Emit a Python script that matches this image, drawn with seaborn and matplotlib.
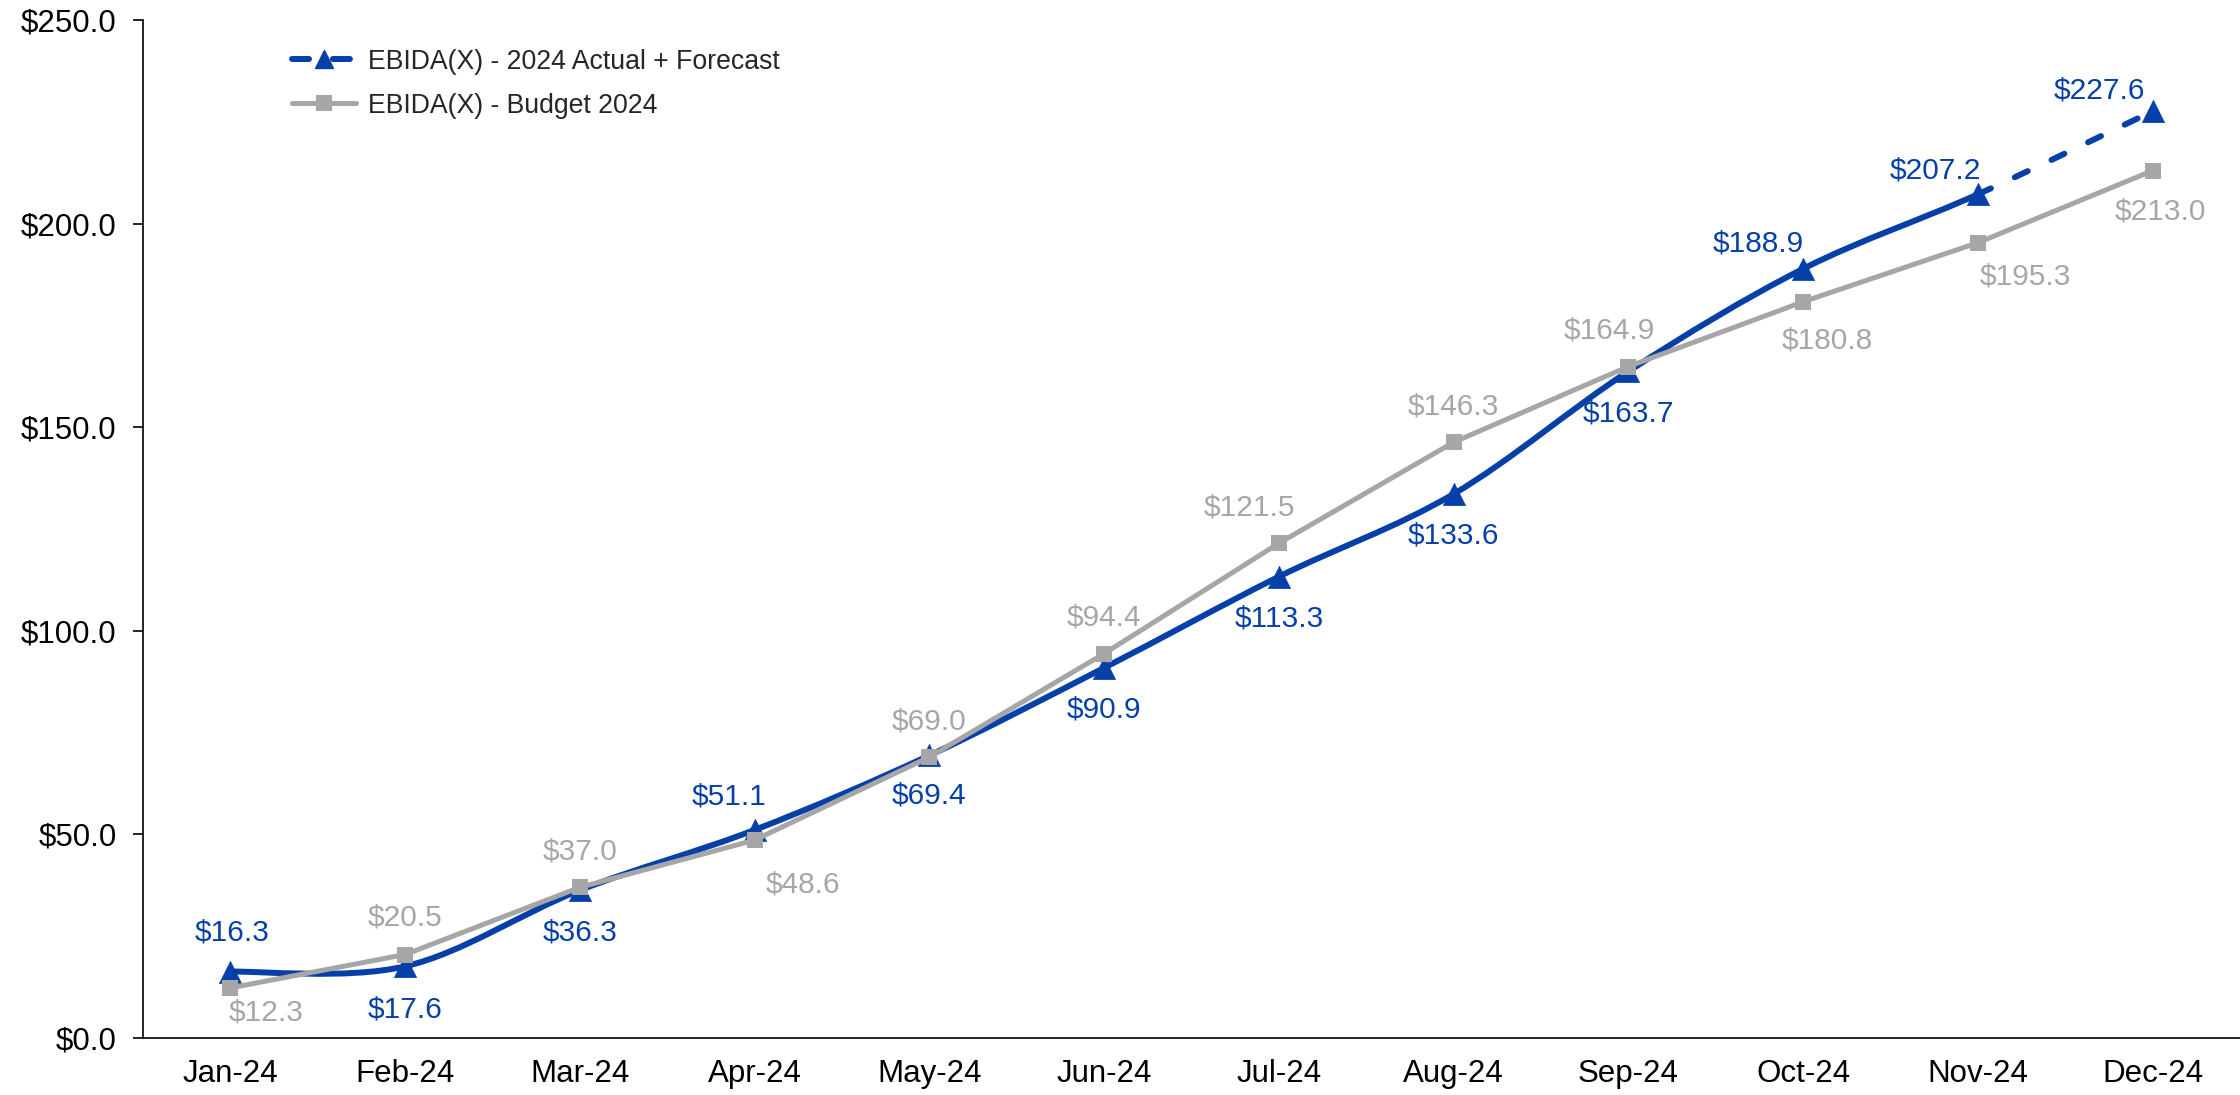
import numpy as np
import seaborn as sns
import matplotlib.pyplot as plt
from matplotlib.path import Path
from matplotlib.patches import PathPatch
from matplotlib.lines import Line2D
from matplotlib.ticker import FuncFormatter

# Data
months = ['Jan-24', 'Feb-24', 'Mar-24', 'Apr-24', 'May-24', 'Jun-24',
          'Jul-24', 'Aug-24', 'Sep-24', 'Oct-24', 'Nov-24', 'Dec-24']
actual = [16.3, 17.6, 36.3, 51.1, 69.4, 90.9, 113.3, 133.6, 163.7, 188.9, 207.2, 227.6]
budget = [12.3, 20.5, 37.0, 48.6, 69.0, 94.4, 121.5, 146.3, 164.9, 180.8, 195.3, 213.0]
series_names = ['EBIDA(X) - 2024 Actual + Forecast', 'EBIDA(X) - Budget 2024']
n_actual = 11  # Jan..Nov actual, Dec forecast

# label nudges in pixels (dx right, dy down)
actual_label_off = [(2, -39), (0, 43), (0, 42), (-26, -33), (0, 40), (0, 42),
                    (0, 42), (0, 42), (0, 42), (-45, -25), (-43, -24), (-53, -21)]
budget_label_off = [(36, 25), (0, -37), (0, -36), (48, 44), (0, -36), (0, -36),
                    (-29, -36), (0, -36), (-19, -36), (24, 39), (48, 34), (8, 41)]

BLUE = '#0540A8'
GRAY = '#A6A6A6'


def smooth_segments(xs, ys):
    # excel-style smoothed line: one cubic bezier per segment
    pts = np.column_stack([xs, ys]).astype(float)
    n = len(pts)
    segs = []
    for i in range(n - 1):
        p0 = pts[max(i - 1, 0)]
        p1, p2 = pts[i], pts[i + 1]
        p3 = pts[min(i + 2, n - 1)]
        segs.append([p1, p1 + (p2 - p0) / 6, p2 - (p3 - p1) / 6, p2])
    return segs


def segs_to_path(segs):
    verts = [segs[0][0]]
    codes = [Path.MOVETO]
    for s in segs:
        verts += list(s[1:])
        codes += [Path.CURVE4] * 3
    return Path(verts, codes)


def main():
    sns.set_style('white')
    plt.rcParams['font.family'] = ['Liberation Sans', 'DejaVu Sans']

    fig = plt.figure(figsize=(22.4, 10.95), dpi=100)
    ax = fig.add_axes([143 / 2240, 57 / 1095, 2097 / 2240, 1018 / 1095])

    x = np.arange(len(months))

    # smoothed actual line, solid for actuals, dashed for forecast
    segs = smooth_segments(x, actual)
    ax.add_patch(PathPatch(segs_to_path(segs[:n_actual - 1]), fill=False,
                           edgecolor=BLUE, lw=4.3, capstyle='round', joinstyle='round', zorder=2))
    ax.add_patch(PathPatch(segs_to_path(segs[n_actual - 1:]), fill=False,
                           edgecolor=BLUE, lw=4.3, linestyle=(0, (2.4, 4.4)),
                           capstyle='round', zorder=2))
    sns.scatterplot(x=x, y=actual, marker='^', s=16 ** 2, color=BLUE,
                    edgecolor=BLUE, linewidth=0.5, ax=ax, zorder=3, legend=False)

    sns.lineplot(x=x, y=budget, color=GRAY, lw=3.6, marker='s', markersize=11,
                 markeredgewidth=0, ax=ax, zorder=4)

    # data labels
    for i, v in enumerate(actual):
        dx, dy = actual_label_off[i]
        ax.annotate(f'${v:.1f}', (i, v), xytext=(dx * 0.72, -dy * 0.72),
                    textcoords='offset points', ha='center', va='center',
                    color=BLUE, fontsize=21.5, zorder=5)
    for i, v in enumerate(budget):
        dx, dy = budget_label_off[i]
        ax.annotate(f'${v:.1f}', (i, v), xytext=(dx * 0.72, -dy * 0.72),
                    textcoords='offset points', ha='center', va='center',
                    color=GRAY, fontsize=21.5, zorder=5)

    ax.set_xlim(-0.5, 11.5)
    ax.set_ylim(0, 250)
    ax.set_xticks(x)
    ax.set_xticklabels(months)
    ax.set_yticks(np.arange(0, 251, 50))
    ax.yaxis.set_major_formatter(FuncFormatter(lambda v, p: f'${v:.1f}'))
    ax.tick_params(axis='x', length=0, pad=15, labelsize=22.5, colors='black')
    ax.tick_params(axis='y', length=7, width=1.2, pad=12, labelsize=22.5,
                   colors='black', left=True)
    sns.despine(ax=ax)
    for side in ['left', 'bottom']:
        ax.spines[side].set_color('black')
        ax.spines[side].set_linewidth(1.2)

    handles = [
        Line2D([], [], color=BLUE, lw=4.3, marker='^', markersize=13,
               linestyle=(0, (2.85, 4.0)), dash_capstyle='round'),
        Line2D([], [], color=GRAY, lw=3.6, marker='s', markersize=11,
               markeredgewidth=0, solid_capstyle='round'),
    ]
    ax.legend(handles, series_names, loc='upper left', bbox_to_anchor=(0.0711, 0.972),
              frameon=False, fontsize=19.2, handlelength=2.4, handletextpad=0.45,
              labelspacing=0.68, borderpad=0, borderaxespad=0)

    fig.savefig('out.png', dpi=100)


if __name__ == '__main__':
    main()
